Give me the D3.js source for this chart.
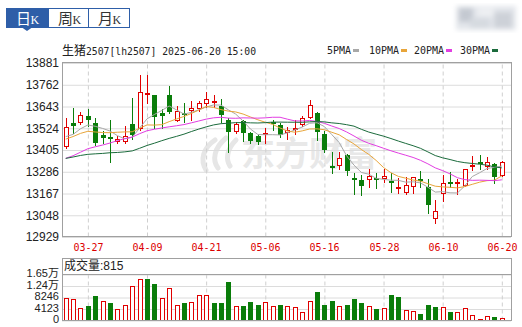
<!DOCTYPE html>
<html>
<head>
<meta charset="utf-8">
<script src="https://cdn.jsdelivr.net/npm/d3@7"></script>
<style>
  body { margin: 0; background: #fff; }
  svg { display: block; }
</style>
</head>
<body>
<div id="vis"></div>
<script>
const WIDTH = 522;
const HEIGHT = 327;
const PLOT = {left: 62, right: 511, top: 62.5, bottom: 236.5};
const VOL = {head: 258.5, top: 274.5, bottom: 320.5};

const dates = ['03-24','03-25','03-26','03-27','03-28','03-31','04-01','04-02','04-03','04-07',
  '04-08','04-09','04-10','04-11','04-14','04-15','04-16','04-17','04-18','04-21',
  '04-22','04-23','04-24','04-25','04-28','04-29','04-30','05-06','05-07','05-08',
  '05-09','05-12','05-13','05-14','05-15','05-16','05-19','05-20','05-21','05-22',
  '05-23','05-26','05-27','05-28','05-29','05-30','06-03','06-04','06-05','06-06',
  '06-09','06-10','06-11','06-12','06-13','06-16','06-17','06-18','06-19','06-20'];

const opens = [13425,13549,13556,13587,13549,13483,13472,13454,13454,13544,
  13520,13706,13702,13602,13702,13569,13607,13620,13631,13657,
  13664,13642,13565,13507,13562,13493,13478,13489,13556,13538,
  13501,13515,13547,13583,13602,13492,13314,13319,13374,13248,
  13237,13244,13250,13248,13233,13196,13173,13204,13246,13201,
  13028,13168,13228,13219,13210,13316,13338,13314,13325,13265];
const highs = [13575,13633,13611,13624,13575,13505,13565,13479,13534,13687,
  13812,13812,13705,13629,13753,13642,13660,13668,13671,13719,
  13704,13684,13575,13556,13569,13501,13483,13520,13569,13551,
  13529,13569,13587,13675,13611,13505,13390,13392,13380,13274,
  13265,13301,13274,13296,13277,13248,13255,13255,13288,13246,
  13128,13265,13283,13246,13301,13368,13374,13365,13329,13343];
const lows = [13414,13494,13542,13533,13429,13443,13337,13440,13443,13461,
  13511,13657,13520,13520,13602,13560,13556,13569,13613,13638,
  13638,13556,13392,13493,13452,13438,13434,13443,13511,13474,
  13465,13489,13533,13575,13456,13392,13274,13301,13265,13164,
  13155,13201,13192,13228,13173,13166,13164,13168,13201,13055,
  13004,13124,13201,13164,13204,13292,13301,13301,13222,13259];
const closes = [13527,13531,13593,13565,13443,13469,13461,13465,13479,13486,
  13720,13713,13585,13589,13608,13614,13598,13631,13660,13684,
  13671,13594,13501,13544,13493,13452,13445,13496,13544,13486,
  13509,13525,13575,13647,13501,13404,13306,13356,13288,13243,
  13204,13259,13243,13259,13219,13202,13209,13252,13230,13100,
  13069,13222,13219,13226,13296,13322,13326,13336,13255,13334];
const volumes = [7950,7700,4400,5200,8750,7000,6300,4150,5450,12300,
  14700,14800,13000,7950,11500,5450,6400,6650,9000,9000,
  6400,6400,13700,5100,5100,6650,5700,6650,5200,5700,
  5100,4800,3100,7000,10200,5700,7000,5200,5700,7800,
  6100,5200,4150,4500,9100,8400,3800,3300,2400,5700,
  4800,5000,3200,3200,4500,2000,600,1560,1300,815];

// closes before 03-24 (off screen), estimated from where the MA lines start
const prevCloses = [13300,13340,13380,13360,13400,13350,13420,13380,13330,13290,
  13250,13210,13180,13230,13280,13240,13200,13260,13320,13350,
  13390,13420,13450,13480,13500,13470,13440,13460,13480];

const priceTicks = [12929,13048,13167,13286,13405,13524,13643,13762,13881];
const volTicks = [0,4123,8246,12369,16492];
const volTickLabels = ['0','4123','8246','1.24万','1.65万'];
const dateTicks = ['03-27','04-09','04-21','05-06','05-16','05-28','06-10','06-20'];
const maNames = ['5PMA','10PMA','20PMA','30PMA'];
const maPeriods = [5,10,20,30];

const UP = '#e00000';
const DOWN = '#0a7d0a';
const MA_COLORS = ['#a8a8a8','#e8a53a','#e23ee2','#1b6b3c'];
const BORDER = '#a0a0a0';
const GRID = '#dcdcdc';
const BLUE = '#2e5ea8';

const svg = d3.select('#vis').append('svg')
  .attr('width', WIDTH).attr('height', HEIGHT);

// top tabs
const tabs = [{t: '日', x0: 6, x1: 48}, {t: '周', x0: 48, x1: 88}, {t: '月', x0: 88, x1: 129}];
tabs.forEach((d, i) => {
  svg.append('rect').attr('x', d.x0 + 0.5).attr('y', 8.5)
    .attr('width', d.x1 - d.x0).attr('height', 19)
    .attr('fill', i === 0 ? BLUE : '#fff').attr('stroke', BLUE);
  svg.append('text').attr('x', d.x0 + 10).attr('y', 24)
    .attr('font-family', 'Noto Sans CJK SC').attr('font-size', 15)
    .attr('fill', i === 0 ? '#fff' : '#333').text(d.t);
  svg.append('text').attr('x', d.x0 + 24.5).attr('y', 23.5)
    .attr('font-family', 'Liberation Serif').attr('font-size', 12)
    .attr('fill', i === 0 ? '#fff' : '#333').text('K');
});
svg.append('path').attr('d', 'M22,27.5L32,27.5L27,31Z').attr('fill', BLUE);

// blurred thing top right
const defs = svg.append('defs');
defs.append('filter').attr('id', 'blur').append('feGaussianBlur').attr('stdDeviation', 2.5);
const blurG = svg.append('g').attr('filter', 'url(#blur)');
[[456, 6, 60, 24, '#e3e6eb'], [459, 8, 14, 14, '#c4c9d1'], [478, 8, 16, 8, '#eef0f3'],
 [494, 12, 18, 16, '#cdd1d8'], [470, 18, 20, 10, '#d6dae0']].forEach(r => {
  blurG.append('rect').attr('x', r[0]).attr('y', r[1]).attr('width', r[2]).attr('height', r[3]).attr('fill', r[4]);
});

// title
svg.append('text').attr('x', 62).attr('y', 55)
  .attr('font-family', 'Noto Sans CJK SC').attr('font-size', 12).attr('fill', '#222').text('生猪');
svg.append('text').attr('x', 86).attr('y', 55)
  .attr('font-family', 'DejaVu Sans Mono').attr('font-size', 11).attr('fill', '#222')
  .attr('textLength', 170).attr('lengthAdjust', 'spacingAndGlyphs')
  .text('2507[lh2507] 2025-06-20 15:00');

// legend
const legendX = [327, 369, 414, 460];
maNames.forEach((name, i) => {
  svg.append('text').attr('x', legendX[i]).attr('y', 54)
    .attr('font-family', 'DejaVu Sans Mono').attr('font-size', 11).attr('fill', '#222')
    .attr('textLength', name.length * 6).attr('lengthAdjust', 'spacingAndGlyphs')
    .text(name);
  svg.append('rect').attr('x', legendX[i] + name.length * 6 + 2).attr('y', 49)
    .attr('width', 6).attr('height', 3).attr('fill', MA_COLORS[i]);
});

// scales
const X = d3.scaleBand().domain(dates).range([PLOT.left, 505.5]);
const cx = d => Math.round(X(d) + X.bandwidth() / 2);
const Y = d3.scaleLinear().domain([12929, 13881]).range([PLOT.bottom, PLOT.top]);
const YV = d3.scaleLinear().domain([0, 16492]).range([VOL.bottom, VOL.top]);

// watermark
const wm = svg.append('g').attr('fill', 'none').attr('stroke', '#e6e6e6').attr('stroke-width', 5)
  .attr('stroke-linecap', 'round');
wm.append('path').attr('d', 'M215,140 C203,148 200,160 206,170');
wm.append('path').attr('d', 'M226,138 C214,148 212,160 218,168');
wm.append('path').attr('d', 'M236,140 C226,150 226,160 230,166');
svg.append('text').attr('x', 241).attr('y', 166)
  .attr('font-family', 'Noto Sans CJK SC').attr('font-weight', 'bold').attr('font-size', 34)
  .attr('fill', '#e8e8e8').text('东方财富');

// price grid
svg.append('g').attr('transform', `translate(${PLOT.left},0)`)
  .call(d3.axisLeft(Y).tickValues(priceTicks).tickSize(-(PLOT.right - PLOT.left)).tickFormat(''))
  .call(g => g.select('.domain').remove())
  .selectAll('line').attr('stroke', GRID).attr('transform', 'translate(0,0.5)');

svg.append('g').attr('transform', `translate(0,${PLOT.bottom})`)
  .call(d3.axisBottom(X).tickValues(dateTicks).tickSize(-(PLOT.bottom - PLOT.top)).tickFormat(''))
  .call(g => g.select('.domain').remove())
  .selectAll('line').attr('stroke', '#cfcfcf').attr('stroke-dasharray', '4,3')
  .attr('transform', 'translate(0.5,0)');

// price labels
svg.append('g').attr('transform', `translate(59,0.5)`)
  .call(d3.axisLeft(Y).tickValues(priceTicks).tickSize(0).tickPadding(0).tickFormat(d3.format('d')))
  .call(g => g.select('.domain').remove())
  .selectAll('text').attr('font-family', 'Liberation Sans').attr('font-size', 12).attr('fill', '#222');

// date labels
svg.append('g').selectAll('text').data(dateTicks).enter().append('text')
  .attr('x', d => cx(d) + 0.5).attr('y', 251)
  .attr('text-anchor', 'middle')
  .attr('font-family', 'DejaVu Sans Mono').attr('font-size', 11)
  .style('fill', 'rgb(220,0,0)')
  .attr('textLength', 30).attr('lengthAdjust', 'spacingAndGlyphs')
  .text(d => d);

// candles
const candles = dates.map((d, i) => ({d, o: opens[i], h: highs[i], l: lows[i], c: closes[i]}));
const cg = svg.append('g');
cg.selectAll('line.wick').data(candles).enter().append('line')
  .attr('x1', d => cx(d.d) + 0.5).attr('x2', d => cx(d.d) + 0.5)
  .attr('y1', d => Math.round(Y(d.h))).attr('y2', d => Math.round(Y(d.l)) + 1)
  .attr('stroke', d => d.c >= d.o ? UP : DOWN);
cg.selectAll('rect.body').data(candles).enter().append('rect')
  .each(function (d) {
    const top = Math.round(Y(Math.max(d.o, d.c)));
    const bot = Math.round(Y(Math.min(d.o, d.c)));
    const sel = d3.select(this);
    if (d.c >= d.o) {
      sel.attr('x', cx(d.d) - 1.5).attr('y', top + 0.5).attr('width', 4)
        .attr('height', Math.max(bot - top, 1)).attr('fill', '#fff').attr('stroke', UP);
    } else {
      sel.attr('x', cx(d.d) - 2).attr('y', top).attr('width', 5)
        .attr('height', Math.max(bot - top, 2)).attr('fill', DOWN);
    }
  });

// moving averages
const allCloses = prevCloses.concat(closes);
const P = prevCloses.length;
maPeriods.forEach((n, k) => {
  const vals = closes.map((c, i) => d3.mean(allCloses.slice(P + i - n + 1, P + i + 1)));
  svg.append('path').datum(vals)
    .attr('d', d3.line().x((v, i) => X(dates[i]) + X.bandwidth() / 2).y(v => Y(v)))
    .attr('fill', 'none').attr('stroke', MA_COLORS[k]).attr('stroke-width', 1);
});

// price frame
svg.append('rect').attr('x', PLOT.left + 0.5).attr('y', PLOT.top)
  .attr('width', PLOT.right - PLOT.left).attr('height', PLOT.bottom - PLOT.top)
  .attr('fill', 'none').attr('stroke', BORDER);

// volume panel
svg.append('g').attr('transform', `translate(${PLOT.left},0)`)
  .call(d3.axisLeft(YV).tickValues(volTicks).tickSize(-(PLOT.right - PLOT.left)).tickFormat(''))
  .call(g => g.select('.domain').remove())
  .selectAll('line').attr('stroke', GRID);
svg.append('g').attr('transform', `translate(0,${VOL.bottom})`)
  .call(d3.axisBottom(X).tickValues(dateTicks).tickSize(-(VOL.bottom - VOL.top)).tickFormat(''))
  .call(g => g.select('.domain').remove())
  .selectAll('line').attr('stroke', '#cfcfcf').attr('stroke-dasharray', '4,3')
  .attr('transform', 'translate(0.5,0)');

const vg = svg.append('g');
volumes.forEach((v, i) => {
  const prev = i === 0 ? prevCloses[P - 1] : closes[i - 1];
  const up = closes[i] >= prev;
  const top = Math.round(YV(v));
  const h = Math.max(Math.round(VOL.bottom) - top, 1);
  if (up) {
    vg.append('rect').attr('x', cx(dates[i]) - 1.5).attr('y', top + 0.5)
      .attr('width', 4).attr('height', Math.max(h - 1, 1)).attr('fill', '#fff').attr('stroke', UP);
  } else {
    vg.append('rect').attr('x', cx(dates[i]) - 2).attr('y', top)
      .attr('width', 5).attr('height', h).attr('fill', DOWN);
  }
});

svg.append('rect').attr('x', PLOT.left + 0.5).attr('y', VOL.head)
  .attr('width', PLOT.right - PLOT.left).attr('height', VOL.bottom - VOL.head)
  .attr('fill', 'none').attr('stroke', BORDER);
svg.append('line').attr('x1', PLOT.left).attr('x2', PLOT.right + 0.5)
  .attr('y1', VOL.top).attr('y2', VOL.top).attr('stroke', BORDER);

svg.append('text').attr('x', 64).attr('y', 270)
  .attr('font-family', 'Noto Sans CJK SC').attr('font-size', 12).attr('fill', '#222').text('成交量');
svg.append('text').attr('x', 100).attr('y', 270)
  .attr('font-family', 'Liberation Sans').attr('font-size', 12).attr('fill', '#222')
  .text(':' + volumes[volumes.length - 1]);

svg.append('g').attr('transform', `translate(59,-1.5)`)
  .call(d3.axisLeft(YV).tickValues(volTicks).tickSize(0).tickPadding(0)
    .tickFormat((d, i) => volTickLabels[i]))
  .call(g => g.select('.domain').remove())
  .selectAll('text').attr('font-family', 'Liberation Sans, Noto Sans CJK SC').attr('font-size', 11).attr('fill', '#222');
</script>
</body>
</html>
